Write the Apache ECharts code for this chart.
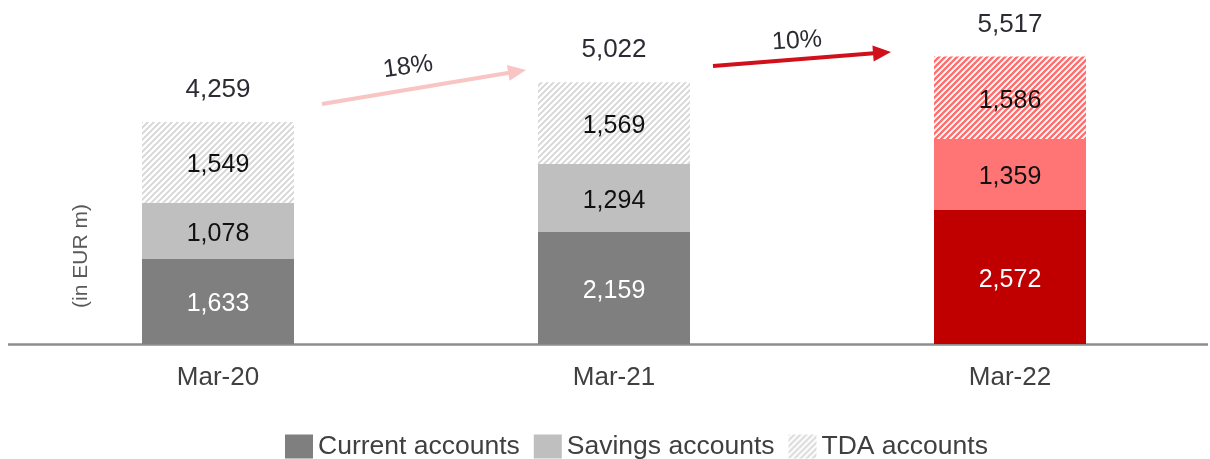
<!DOCTYPE html>
<html>
<head>
<meta charset="utf-8">
<script src="https://cdn.jsdelivr.net/npm/echarts@6/dist/echarts.min.js"></script>
<style>
  html, body { margin: 0; padding: 0; background: #fff; }
  #chart { width: 1210px; height: 459px; }
</style>
</head>
<body>
<div id="chart"></div>
<script>
// data
const periods = ["Mar-20", "Mar-21", "Mar-22"];
const currentAcc = [1633, 2159, 2572];
const savingsAcc = [1078, 1294, 1359];
const tdaAcc = [1549, 1569, 1586];
const totals = [4259, 5022, 5517];
const growth = ["18%", "10%"];

// hatched fill ///
function hatch(color, w) {
  const c = document.createElement("canvas");
  c.width = 6;
  c.height = 6;
  const ctx = c.getContext("2d");
  ctx.fillStyle = "#fff";
  ctx.fillRect(0, 0, 6, 6);
  ctx.strokeStyle = color;
  ctx.lineWidth = w;
  ctx.beginPath();
  ctx.moveTo(-1, 7); ctx.lineTo(7, -1);
  ctx.moveTo(-4, 4); ctx.lineTo(4, -4);
  ctx.moveTo(2, 10); ctx.lineTo(10, 2);
  ctx.stroke();
  return { image: c, repeat: "repeat" };
}

const grayHatch = hatch("#d6d6d6", 1.9);
const redHatch = hatch("#ff6f6f", 2.4);

const font = "Liberation Sans, Arial, sans-serif";
const fmt = p => Number(p.value).toLocaleString("en-US");
const lblStyle = { show: true, position: "inside", offset: [0, 3], fontSize: 25, fontFamily: font, color: "#111", formatter: fmt };

const chart = echarts.init(document.getElementById("chart"));

function arrow(x1, y1, x2, y2, color) {
  const dx = x2 - x1, dy = y2 - y1;
  const len = Math.sqrt(dx * dx + dy * dy);
  const ang = Math.atan2(-dy, dx);
  return {
    type: "group",
    x: x1, y: y1,
    rotation: ang,
    children: [
      { type: "line", shape: { x1: 0, y1: 0, x2: len - 14, y2: 0 }, style: { stroke: color, lineWidth: 4 } },
      { type: "polygon", shape: { points: [[len, 0], [len - 18, -8], [len - 18, 8]] }, style: { fill: color } }
    ]
  };
}

chart.setOption({
  animation: false,
  textStyle: { fontFamily: font },
  grid: { left: 20, right: 2, top: 0, bottom: 115 },
  legend: {
    data: ["Current accounts", "Savings accounts", "TDA accounts"],
    left: 280,
    top: 428,
    icon: "rect",
    itemWidth: 28,
    itemHeight: 24,
    itemGap: 14,
    textStyle: { fontSize: 26.5, color: "#404040", fontFamily: font }
  },
  xAxis: {
    type: "category",
    data: periods,
    axisLine: { show: false },
    axisTick: { show: false },
    axisLabel: { fontSize: 26, color: "#404040", margin: 21, fontFamily: font }
  },
  yAxis: {
    type: "value",
    min: 0,
    max: 6600,
    show: false,
    splitLine: { show: false }
  },
  series: [
    {
      name: "Current accounts",
      type: "bar",
      stack: "dep",
      barWidth: 152,
      itemStyle: { color: "#7f7f7f" },
      label: Object.assign({}, lblStyle, { color: "#fff" }),
      data: currentAcc.map((v, i) => i === 2 ? { value: v, itemStyle: { color: "#c00000" } } : v)
    },
    {
      name: "Savings accounts",
      type: "bar",
      stack: "dep",
      itemStyle: { color: "#bfbfbf" },
      label: lblStyle,
      data: savingsAcc.map((v, i) => i === 2 ? { value: v, itemStyle: { color: "#ff7575" } } : v)
    },
    {
      name: "TDA accounts",
      type: "bar",
      stack: "dep",
      itemStyle: { color: grayHatch },
      label: lblStyle,
      data: tdaAcc.map((v, i) => i === 2 ? { value: v, itemStyle: { color: redHatch } } : v)
    },
    {
      name: "Total",
      type: "bar",
      barWidth: 152,
      barGap: "-100%",
      z: 1,
      itemStyle: { color: "transparent" },
      label: { show: true, position: "top", distance: 19, fontSize: 26, fontFamily: font, color: "#2b2b33", formatter: fmt },
      data: totals
    }
  ],
  graphic: [
    { type: "line", shape: { x1: 8, y1: 344.5, x2: 1208, y2: 344.5 }, style: { stroke: "#8c8c8c", lineWidth: 2.5 } },
    {
      type: "text", x: 81, y: 256, rotation: Math.PI / 2,
      style: { text: "(in EUR m)", fontSize: 21, fill: "#595959", fontFamily: font, align: "center", verticalAlign: "middle" }
    },
    arrow(322, 104, 526, 70, "#f8c4c4"),
    arrow(713, 66, 891, 52, "#d0101b"),
    {
      type: "text", x: 408, y: 67, rotation: 0.14,
      style: { text: growth[0], fontSize: 25, fill: "#2b2b33", fontFamily: font, align: "center", verticalAlign: "middle" }
    },
    {
      type: "text", x: 797, y: 41, rotation: 0.07,
      style: { text: growth[1], fontSize: 25, fill: "#2b2b33", fontFamily: font, align: "center", verticalAlign: "middle" }
    }
  ]
});
</script>
</body>
</html>
